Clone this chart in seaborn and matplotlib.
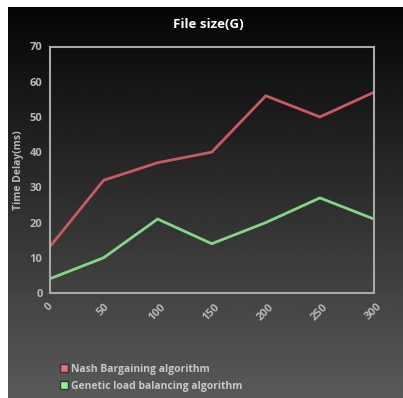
import numpy as np
import pandas as pd
import seaborn as sns
import matplotlib.pyplot as plt
from matplotlib.lines import Line2D

# Data
file_size = [0, 50, 100, 150, 200, 250, 300]
nash_delay = [13, 32, 37, 40, 56, 50, 57]
genetic_delay = [4, 10, 21, 14, 20, 27, 21]
series_names = ['Nash Bargaining algorithm', 'Genetic load balancing algorithm']
y_ticks = [0, 10, 20, 30, 40, 50, 60, 70]

df = pd.DataFrame({
    'File size': file_size * 2,
    'Delay': nash_delay + genetic_delay,
    'Algorithm': [series_names[0]] * len(file_size) + [series_names[1]] * len(file_size),
})

sns.set_theme(style='dark')
plt.rcParams['font.family'] = ['Open Sans', 'DejaVu Sans']

line_colors = ['#c95a62', '#84d684']
legend_colors = ['#e8707c', '#8ff08f']
tick_color = '#b8b8b8'

fig = plt.figure(figsize=(4.03, 3.98), dpi=100, facecolor='white')

# gradient background panel
bg = fig.add_axes([8 / 403, 0, 395 / 403, 391 / 398])
grad = np.linspace(0.02, 0.35, 256).reshape(-1, 1)
bg.imshow(grad, aspect='auto', cmap='gray', vmin=0, vmax=1, extent=[0, 1, 0, 1], origin='upper')
bg.set_axis_off()

ax = fig.add_axes([49.5 / 403, (398 - 293) / 398, 324.5 / 403, 246.5 / 398])
ax.patch.set_alpha(0)
sns.lineplot(data=df, x='File size', y='Delay', hue='Algorithm', palette=line_colors,
             linewidth=2, ax=ax, legend=False)

ax.set_xlim(0, 300)
ax.set_ylim(0, 70)
ax.set_xticks(file_size)
ax.set_yticks(y_ticks)
ax.grid(False)
for sp in ax.spines.values():
    sp.set_visible(True)
    sp.set_color('#a8a8a8')
    sp.set_linewidth(1.5)
ax.tick_params(axis='both', length=0, colors=tick_color, labelsize=8)
ax.tick_params(axis='x', pad=6)
ax.tick_params(axis='y', pad=5)
for lab in ax.get_xticklabels():
    lab.set_rotation(45)
    lab.set_ha('center')
    lab.set_fontweight('bold')
for lab in ax.get_yticklabels():
    lab.set_fontweight('bold')
ax.set_xlabel('')
ax.set_ylabel('Time Delay(ms)', color=tick_color, fontsize=7.5, fontweight='bold', labelpad=4)

fig.text(208 / 403, 1 - 24 / 398, 'File size(G)', color='white', fontsize=9.5,
         fontweight='bold', ha='center', va='center')

handles = [Line2D([0], [0], marker='s', linestyle='none', markersize=6,
                  markerfacecolor=c, markeredgecolor='#333333') for c in legend_colors]
leg = fig.legend(handles, series_names, loc='lower left', bbox_to_anchor=(55 / 403, 2 / 398),
                 frameon=False, fontsize=7.5, handletextpad=0.1, labelspacing=0.55,
                 handlelength=1.0, borderaxespad=0)
for t in leg.get_texts():
    t.set_color('#c8c8c8')
    t.set_fontweight('bold')

fig.savefig('out.png', dpi=100, facecolor='white')
